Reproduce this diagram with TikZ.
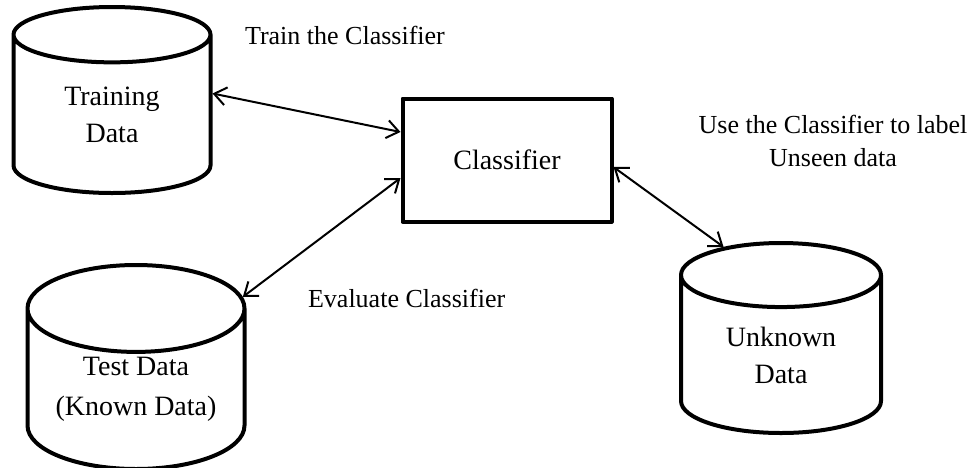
\documentclass[tikz,border=0pt]{standalone}
\usepackage{fontspec}
\setmainfont{Liberation Serif}
\usetikzlibrary{shapes.geometric,arrows.meta}
\begin{document}
\begin{tikzpicture}[x=0.5pt,y=-0.5pt,
    % Cilindros de datos
    datos/.style={cylinder, shape border rotate=90, aspect=0.58, draw, line width=2pt,
      inner sep=0pt, align=center, anchor=shape center, font=\fontsize{14}{18.5}\selectfont},
    % Caja del clasificador
    clasif/.style={rectangle, draw, line width=2pt, line join=round,
      minimum width=104.5pt, minimum height=61.5pt, font=\fontsize{14}{18}\selectfont},
    % Flechas de doble punta
    flecha/.style={{Straight Barb[length=6pt,width=9pt]}-{Straight Barb[length=6pt,width=9pt]}, line width=1pt},
    % Textos de las flechas
    texto/.style={font=\fontsize{13}{16.5}\selectfont, align=center}
  ]
  \useasboundingbox (0,0) rectangle (973,467);

  % Nodos
  \node[datos, minimum width=98.5pt, minimum height=93pt] (trn) at (112,100) {Training\\Data};
  \node[datos, aspect=0.54, minimum width=108.5pt, minimum height=102pt,
    font=\fontsize{14}{20}\selectfont] (tst) at (136,367) {Test Data\\(Known Data)};
  \node[datos, minimum width=100pt, minimum height=95pt] (unk) at (781,338) {Unknown\\Data};
  \node[clasif] (cls) at (507,160) {Classifier};

  % Flechas
  \draw[flecha] (trn.12) -- ([yshift=14pt]cls.west);
  \draw[flecha] (tst.41) -- ([yshift=-9pt]cls.west);
  \draw[flecha] ([yshift=-3.5pt]cls.east) -- (unk.118);

  % Textos
  \node[texto, anchor=west] (ttrn) at (238,35) {Train the Classifier};
  \node[texto, anchor=west] (ttst) at (301,298) {Evaluate Classifier};
  \node[texto] (tunk) at (833,141) {Use the Classifier to label\\Unseen data};
\end{tikzpicture}
\end{document}
